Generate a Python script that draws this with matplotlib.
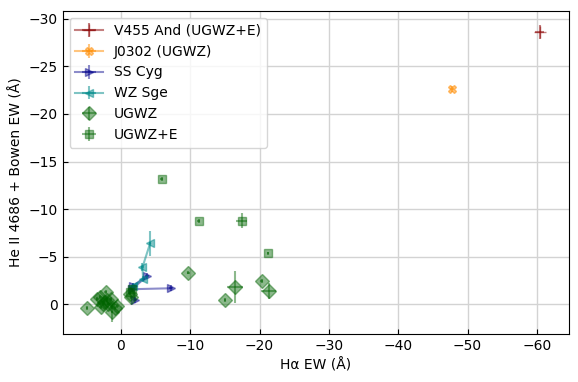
import matplotlib
matplotlib.use("Agg")
import matplotlib.pyplot as plt

# V455 And (UGWZ+E)
v455_x = [-60.4]
v455_y = [-28.6]
v455_xe = [0.6]
v455_ye = [0.7]

# J0302 (UGWZ)
j0302_x = [-47.7]
j0302_y = [-22.6]
j0302_xe = [0.3]
j0302_ye = [0.3]

# SS Cyg (connected)
sscyg_x = [-2.0, -1.7, -3.8, -1.6, -7.2]
sscyg_y = [-0.45, -1.95, -3.0, -1.6, -1.7]
sscyg_xe = [0.3, 0.3, 0.3, 0.3, 0.3]
sscyg_ye = [0.3, 0.3, 0.3, 0.3, 0.3]

# WZ Sge (connected)
wzsge_x = [-4.2, -3.1, -3.2, -1.8]
wzsge_y = [-6.4, -3.9, -2.7, -1.9]
wzsge_xe = [0.2, 0.2, 0.2, 0.2]
wzsge_ye = [1.3, 0.4, 0.3, 0.3]

# UGWZ
ugwz_x = [4.9, 3.4, 2.9, 2.2, 2.5, 2.0, 1.8, 2.6, 1.5, 0.9, 0.5, 3.0, 1.3, -1.3, -1.5,
          -9.7, -15.0, -16.45, -20.3, -21.3]
ugwz_y = [0.35, -0.55, 0.25, -1.3, -0.3, -0.5, -0.1, 0.0, -0.6, 0.4, 0.2, -0.8, 0.8, -1.15, -0.8,
          -3.35, -0.45, -1.85, -2.5, -1.4]
ugwz_xe = [0.2, 0.2, 0.2, 0.2, 0.2, 0.2, 0.2, 0.2, 0.2, 0.2, 0.2, 0.2, 0.2, 0.2, 0.2,
           0.2, 0.2, 1.15, 0.2, 1.1]
ugwz_ye = [0.2, 0.2, 0.2, 0.2, 0.2, 0.2, 0.2, 0.2, 0.2, 0.2, 0.2, 0.2, 1.0, 0.2, 0.2,
           0.2, 0.2, 1.65, 0.2, 0.8]

# UGWZ+E
ugwze_x = [-5.9, -11.2, -17.4, -21.2, -1.3, -1.6]
ugwze_y = [-13.2, -8.8, -8.8, -5.35, -1.3, -1.6]
ugwze_xe = [0.2, 0.2, 0.8, 0.2, 0.2, 0.2]
ugwze_ye = [0.2, 0.2, 0.8, 0.2, 0.2, 0.2]

fig = plt.figure(figsize=(5.78, 3.82), dpi=100)
ax = fig.add_axes([0.1085, 0.1257, 0.8755, 0.8453])

ax.errorbar(v455_x, v455_y, xerr=v455_xe, yerr=v455_ye, fmt='+-', color='darkred',
            alpha=0.5, markersize=9, label='V455 And (UGWZ+E)')
ax.errorbar(j0302_x, j0302_y, xerr=j0302_xe, yerr=j0302_ye, fmt='X-', color='darkorange',
            alpha=0.5, markersize=6, label='J0302 (UGWZ)')
ax.errorbar(sscyg_x, sscyg_y, xerr=sscyg_xe, yerr=sscyg_ye, fmt='>-', color='darkblue',
            alpha=0.45, markersize=6, label='SS Cyg')
ax.errorbar(wzsge_x, wzsge_y, xerr=wzsge_xe, yerr=wzsge_ye, fmt='<-', color='darkcyan',
            alpha=0.5, markersize=6, label='WZ Sge')
ax.errorbar(ugwz_x, ugwz_y, xerr=ugwz_xe, yerr=ugwz_ye, fmt='D', color='darkgreen',
            alpha=0.45, markersize=7, label='UGWZ')
ax.errorbar(ugwze_x, ugwze_y, xerr=ugwze_xe, yerr=ugwze_ye, fmt='s', color='darkgreen',
            alpha=0.45, markersize=6, label='UGWZ+E')

ax.set_xlim(8.4, -64.6)
ax.set_ylim(3.1, -30.8)
ax.set_xticks([0, -10, -20, -30, -40, -50, -60])
ax.set_yticks([0, -5, -10, -15, -20, -25, -30])
ax.tick_params(direction='in')
ax.grid(True, color='lightgray', linewidth=1)
ax.set_axisbelow(True)
ax.set_xlabel('Hα EW (Å)')
ax.set_ylabel('He II 4686 + Bowen EW (Å)')
ax.legend(loc='upper left')

plt.savefig('out.png', dpi=100)
plt.close()
